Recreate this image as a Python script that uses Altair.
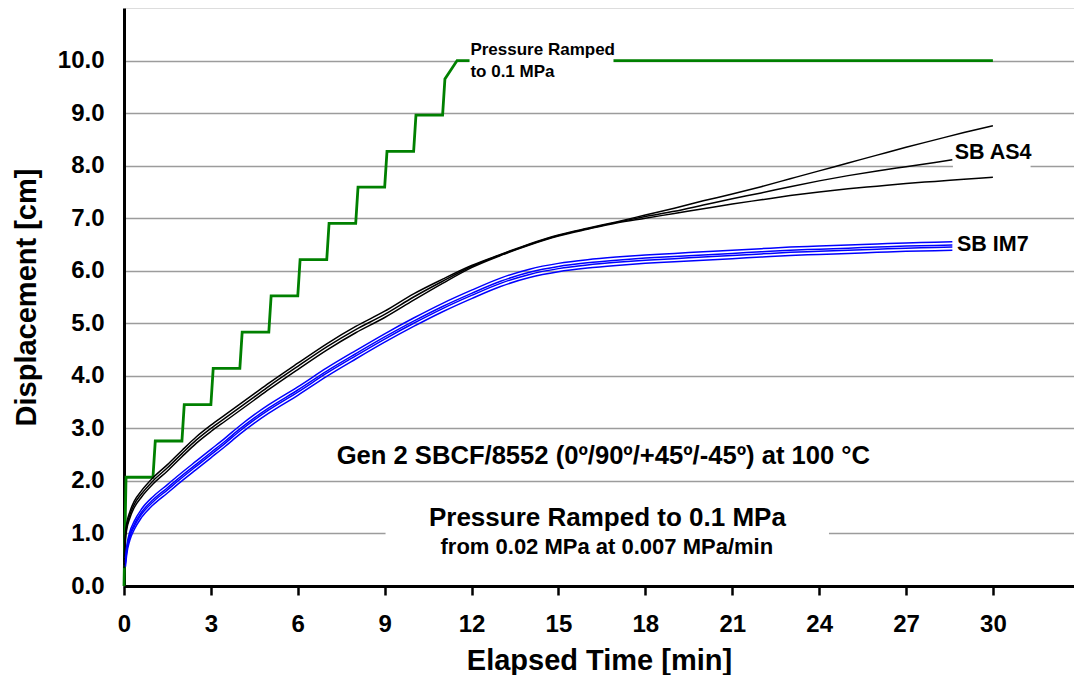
import altair as alt
import pandas as pd

# ---------------- data ----------------
# SB AS4 (black) – time grids [min]
AS4_T_LONG = [0.0, 0.05, 0.1, 0.2, 0.35, 0.6, 1.0, 1.5, 2.0, 2.5, 3.0, 3.5, 4.0, 4.5, 5.0,
              6.0, 7.0, 8.0, 9.0, 10.0, 11.0, 12.0, 13.0, 14.0, 15.0, 16.0, 17.0, 18.0, 19.0,
              20.0, 21.0, 22.0, 23.0, 24.0, 25.0, 26.0, 27.0, 28.0, 29.0, 30.0]
AS4_T_MID = [0.0, 0.05, 0.1, 0.2, 0.35, 0.6, 1.0, 1.5, 2.0, 2.5, 3.0, 3.5, 4.0, 4.5, 5.0,
             6.0, 7.0, 8.0, 9.0, 10.0, 11.0, 12.0, 13.0, 14.0, 15.0, 16.0, 17.0, 18.0, 19.0,
             20.0, 21.0, 22.0, 23.0, 24.0, 25.0, 26.0, 27.0, 28.0, 28.6]
AS4_TOP = [0.46, 1.01, 1.21, 1.41, 1.61, 1.81, 2.06, 2.31, 2.58, 2.84, 3.06, 3.26, 3.46, 3.66, 3.86,
           4.24, 4.61, 4.94, 5.23, 5.56, 5.84, 6.10, 6.31, 6.51, 6.68, 6.81, 6.93, 7.06, 7.19,
           7.33, 7.46, 7.60, 7.75, 7.90, 8.05, 8.20, 8.35, 8.49, 8.63, 8.76]
AS4_MID = [0.40, 0.95, 1.15, 1.35, 1.55, 1.75, 2.00, 2.25, 2.52, 2.78, 3.00, 3.20, 3.40, 3.60, 3.80,
           4.18, 4.55, 4.88, 5.17, 5.50, 5.80, 6.08, 6.30, 6.50, 6.67, 6.80, 6.92, 7.03, 7.13,
           7.25, 7.37, 7.48, 7.60, 7.71, 7.81, 7.90, 7.98, 8.06, 8.11]
AS4_BOT = [0.34, 0.89, 1.09, 1.29, 1.49, 1.69, 1.94, 2.19, 2.46, 2.72, 2.94, 3.14, 3.34, 3.54, 3.74,
           4.12, 4.49, 4.82, 5.11, 5.44, 5.76, 6.06, 6.29, 6.49, 6.66, 6.79, 6.91, 7.00, 7.09,
           7.18, 7.27, 7.35, 7.43, 7.50, 7.56, 7.61, 7.66, 7.70, 7.74, 7.78]

# SB IM7 (blue)
IM7_T = [0.05, 0.1, 0.2, 0.35, 0.6, 1.0, 1.5, 2.0, 2.5, 3.0, 3.5, 4.0, 4.5, 5.0,
         6.0, 7.0, 8.0, 9.0, 10.0, 11.0, 12.0, 13.0, 14.0, 15.0, 16.0, 17.0, 18.0, 19.0,
         20.0, 21.0, 22.0, 23.0, 24.0, 25.0, 26.0, 27.0, 28.0, 28.6]
IM7_1 = [0.53, 0.78, 1.03, 1.23, 1.46, 1.70, 1.93, 2.16, 2.38, 2.60, 2.82, 3.05, 3.26, 3.45,
         3.79, 4.15, 4.48, 4.80, 5.10, 5.38, 5.63, 5.86, 6.03, 6.14, 6.21, 6.26, 6.30, 6.33,
         6.36, 6.39, 6.42, 6.45, 6.47, 6.49, 6.51, 6.53, 6.54, 6.55]
IM7_2 = [0.47, 0.72, 0.97, 1.17, 1.40, 1.64, 1.87, 2.10, 2.32, 2.54, 2.76, 2.99, 3.20, 3.39,
         3.73, 4.09, 4.42, 4.74, 5.04, 5.32, 5.57, 5.80, 5.97, 6.08, 6.15, 6.20, 6.24, 6.27,
         6.30, 6.33, 6.36, 6.39, 6.41, 6.43, 6.45, 6.47, 6.48, 6.49]
IM7_3 = [0.43, 0.68, 0.93, 1.13, 1.36, 1.60, 1.83, 2.06, 2.28, 2.50, 2.72, 2.95, 3.16, 3.35,
         3.69, 4.05, 4.38, 4.70, 5.00, 5.28, 5.53, 5.76, 5.93, 6.04, 6.11, 6.16, 6.20, 6.23,
         6.26, 6.29, 6.32, 6.35, 6.37, 6.39, 6.41, 6.43, 6.44, 6.45]
IM7_4 = [0.37, 0.62, 0.87, 1.07, 1.30, 1.54, 1.77, 2.00, 2.22, 2.44, 2.66, 2.89, 3.10, 3.29,
         3.63, 3.99, 4.32, 4.64, 4.94, 5.22, 5.47, 5.70, 5.87, 5.98, 6.05, 6.10, 6.14, 6.17,
         6.20, 6.23, 6.26, 6.29, 6.31, 6.33, 6.35, 6.37, 6.38, 6.39]

# Pressure ramp (green step line)
PRESS_T = [0.0, 0.07, 1.0, 1.08, 2.0, 2.08, 3.0, 3.08, 4.0, 4.08, 5.0, 5.08, 6.0, 6.08,
           7.0, 7.08, 8.0, 8.08, 9.0, 9.08, 10.0, 10.08, 11.0, 11.08, 11.5, 30.0]
PRESS_D = [0.0, 2.07, 2.07, 2.76, 2.76, 3.45, 3.45, 4.14, 4.14, 4.83, 4.83, 5.52, 5.52, 6.21,
           6.21, 6.90, 6.90, 7.59, 7.59, 8.27, 8.27, 8.96, 8.96, 9.65, 10.0, 10.0]

X_TICKS = [0, 3, 6, 9, 12, 15, 18, 21, 24, 27, 30]
Y_TICKS = [0, 1, 2, 3, 4, 5, 6, 7, 8, 9, 10]

# annotation texts
LABELS_LEFT = ["Pressure Ramped", "to 0.1 MPa", "SB AS4", "SB IM7"]
LABELS_LEFT_T = [11.96, 11.96, 28.68, 28.76]
LABELS_LEFT_D = [10.10, 9.68, 8.12, 6.37]
LABELS_LEFT_FS = [17, 17, 21.5, 21.5]

LABELS_MID = ["Gen 2 SBCF/8552 (0º/90º/+45º/-45º) at 100 °C",
              "Pressure Ramped to 0.1  MPa",
              "from 0.02 MPa at 0.007 MPa/min"]
LABELS_MID_T = [16.55, 16.69, 16.67]
LABELS_MID_D = [2.33, 1.15, 0.60]
LABELS_MID_FS = [25.6, 26, 22]

# white label backgrounds (cover grid/lines behind the labels)
BOX_T = [11.93, 28.62, 9.03]
BOX_T2 = [16.9, 31.3, 24.34]
BOX_D = [9.55, 7.92, 0.45]
BOX_D2 = [10.45, 8.45, 1.65]

# ---------------- build tables ----------------
series = [
    ("AS4 top", AS4_T_LONG, AS4_TOP, "#000000", 1.5),
    ("AS4 bottom", AS4_T_LONG, AS4_BOT, "#000000", 1.5),
    ("AS4 mid", AS4_T_MID, AS4_MID, "#000000", 3.3),
    ("IM7 1", IM7_T, IM7_1, "#0000ff", 1.4),
    ("IM7 4", IM7_T, IM7_4, "#0000ff", 1.4),
    ("IM7 2", IM7_T, IM7_2, "#0000ff", 1.8),
    ("IM7 3", IM7_T, IM7_3, "#0000ff", 1.8),
]
rows = []
for name, ts, ds, _, _ in series:
    for t, d in zip(ts, ds):
        rows.append({"t": t, "d": d, "line": name})
curves = pd.DataFrame(rows)
ids = [s[0] for s in series]
cols = [s[3] for s in series]
widths = [s[4] for s in series]

press = pd.DataFrame({"t": PRESS_T, "d": PRESS_D})
boxes = pd.DataFrame({"t": BOX_T, "t2": BOX_T2, "d": BOX_D, "d2": BOX_D2})
lab_l = pd.DataFrame({"t": LABELS_LEFT_T, "d": LABELS_LEFT_D, "txt": LABELS_LEFT, "fs": LABELS_LEFT_FS})
lab_m = pd.DataFrame({"t": LABELS_MID_T, "d": LABELS_MID_D, "txt": LABELS_MID, "fs": LABELS_MID_FS})

FONT = "Liberation Sans"

xscale = alt.Scale(domain=[0, 32.8], nice=False, zero=False)
yscale = alt.Scale(domain=[0, 11], nice=False, zero=False)

xaxis = alt.Axis(values=X_TICKS, title="Elapsed Time [min]", grid=False,
                 domainColor="black", domainWidth=3, tickColor="black", tickWidth=2.5,
                 tickSize=9, labelFont=FONT, labelFontSize=24, labelFontWeight="bold",
                 labelColor="black", labelPadding=17, titleFont=FONT, titleFontSize=29,
                 titleFontWeight="bold", titleColor="black", titlePadding=10,
                 labelFlush=False)
yaxis = alt.Axis(values=Y_TICKS, title="Displacement [cm]", grid=True, gridColor="#9c9c9c",
                 gridWidth=1.5, ticks=False, tickSize=0, domainColor="black", domainWidth=3,
                 format=".1f", labelFont=FONT, labelFontSize=24, labelFontWeight="bold",
                 labelColor="black", labelPadding=20, titleFont=FONT, titleFontSize=29,
                 titleFontWeight="bold", titleColor="black", titlePadding=16,
                 labelFlush=False)

X = lambda f="t": alt.X(f"{f}:Q", scale=xscale, axis=xaxis)
Y = lambda f="d": alt.Y(f"{f}:Q", scale=yscale, axis=yaxis)

green = alt.Chart(press).mark_line(color="#008000", strokeWidth=2.8, interpolate="linear").encode(
    x=X(), y=Y())

lines = alt.Chart(curves).mark_line(interpolate="monotone").encode(
    x=X(), y=Y(),
    color=alt.Color("line:N", scale=alt.Scale(domain=ids, range=cols), legend=None),
    strokeWidth=alt.StrokeWidth("line:N", scale=alt.Scale(domain=ids, range=widths), legend=None),
    detail="line:N",
)

rects = alt.Chart(boxes).mark_rect(color="white").encode(
    x=X(), x2="t2:Q", y=Y(), y2="d2:Q")

txt_l = alt.Chart(lab_l).mark_text(align="left", baseline="alphabetic", font=FONT,
                                    fontWeight="bold", color="black").encode(
    x=X(), y=Y(), text="txt:N", size=alt.Size("fs:Q", scale=None))

txt_m = alt.Chart(lab_m).mark_text(align="center", baseline="alphabetic", font=FONT,
                                    fontWeight="bold", color="black").encode(
    x=X(), y=Y(), text="txt:N", size=alt.Size("fs:Q", scale=None))

chart = alt.layer(green, lines, rects, txt_l, txt_m).properties(
    width=1066, height=667,
    autosize=alt.AutoSizeParams(type="fit", contains="padding"),
    padding={"left": 4, "top": 0, "right": 0, "bottom": 0},
).configure_view(stroke="black", strokeWidth=2.5).configure(background="white")

chart.save("out.html", embed_options={"renderer": "svg", "actions": False})
